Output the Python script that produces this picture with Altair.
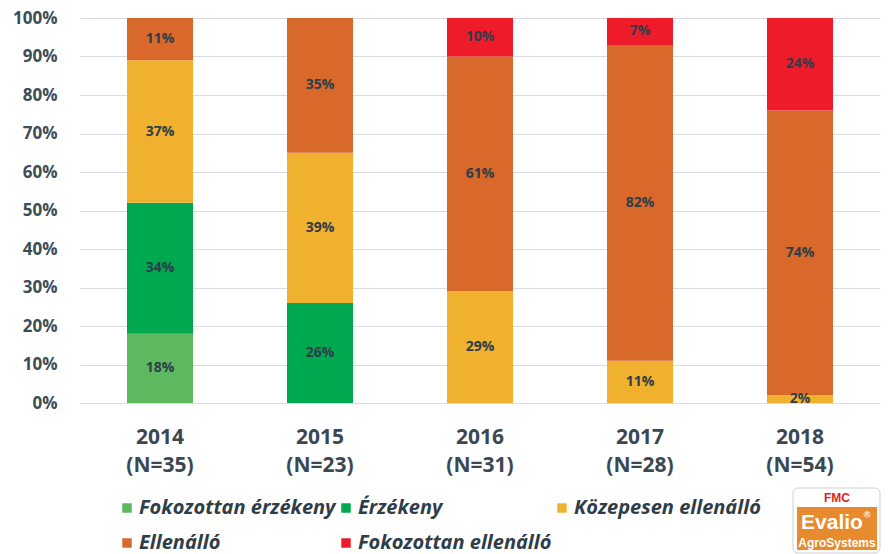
import altair as alt
import pandas as pd

years = ["2014", "2015", "2016", "2017", "2018"]
ns = [35, 23, 31, 28, 54]
categories = ["Fokozottan érzékeny", "Érzékeny", "Közepesen ellenálló", "Ellenálló", "Fokozottan ellenálló"]
colors = ["#5DB860", "#00A84F", "#F0B12E", "#D9692A", "#EE1C2B"]
fok_erz = [18, 0, 0, 0, 0]
erz = [34, 26, 0, 0, 0]
koz = [37, 39, 29, 11, 2]
ell = [11, 35, 61, 82, 74]
fok_ell = [0, 0, 10, 7, 24]

series = [fok_erz, erz, koz, ell, fok_ell]
rows = []
for ci, (cat, vals) in enumerate(zip(categories, series)):
    for yi, (yr, n) in enumerate(zip(years, ns)):
        rows.append({"label": f"{yr}\n(N={n})", "cat": cat, "order": ci, "value": vals[yi]})
df = pd.DataFrame(rows)
labels_order = [f"{y}\n(N={n})" for y, n in zip(years, ns)]

FONT = "Open Sans"
TXT = "#2e3d49"

xaxis = alt.Axis(labelExpr="split(datum.label, '\\n')", labelAngle=0,
                 labelFontSize=21, labelFontWeight="bold", labelColor="#3a4852",
                 labelFont=FONT, labelLineHeight=28, labelPadding=23,
                 ticks=False, domain=False, grid=False)
xscale = alt.Scale(paddingInner=0.5875, paddingOuter=0.29375)
yaxis = alt.Axis(format=".0%", values=[i / 10 for i in range(11)], labelOverlap=False,
                 labelFontSize=17, labelFontWeight="bold", labelColor="#3d4d57",
                 labelFont=FONT, labelPadding=23, ticks=False, domain=False,
                 gridColor="#d9dde1", gridWidth=1.2)
yscale = alt.Scale(domain=[0, 1], nice=False)

base = alt.Chart(df).transform_filter("datum.value > 0").transform_stack(
    stack="value", groupby=["label"], as_=["y0", "y1"], sort=[alt.SortField("order", "ascending")]
).transform_calculate(
    y0f="datum.y0/100", y1f="datum.y1/100", mid="(datum.y0+datum.y1)/200", txt="datum.value + '%'"
)

bars = base.mark_bar().encode(
    x=alt.X("label:N", sort=labels_order, title=None, scale=xscale, axis=xaxis),
    y=alt.Y("y0f:Q", title=None, scale=yscale, axis=yaxis),
    y2="y1f:Q",
    color=alt.Color("cat:N", scale=alt.Scale(domain=categories, range=colors), title=None,
                    legend=alt.Legend(orient="none", legendX=37, legendY=480, columns=3,
                                      direction="horizontal",
                                      symbolType="square", symbolSize=90, symbolStrokeWidth=0,
                                      labelFontSize=20, labelFontWeight="bold", labelFontStyle="italic",
                                      labelFont=FONT, labelColor=TXT, labelOffset=2,
                                      columnPadding=-9, rowPadding=15, labelLimit=400, padding=0)),
)

text = base.mark_text(fontSize=14, fontWeight="bold", font=FONT, color=TXT).encode(
    x=alt.X("label:N", sort=labels_order, title=None, scale=xscale, axis=xaxis),
    y=alt.Y("mid:Q", title=None, scale=yscale, axis=yaxis),
    text="txt:N",
)

one = pd.DataFrame({"a": [0]})
logo_box = alt.Chart(one).mark_rect(
    fill="white", stroke="#cfcfcf", strokeWidth=1, cornerRadius=5
).encode(x=alt.value(713), x2=alt.value(800), y=alt.value(470), y2=alt.value(535))
logo_orange = alt.Chart(one).mark_rect(fill="#E88A2E").encode(
    x=alt.value(717), x2=alt.value(797), y=alt.value(489), y2=alt.value(532))
logo_fmc = alt.Chart(pd.DataFrame({"t": ["FMC"]})).mark_text(
    fontSize=12, fontWeight="bold", font="Liberation Sans", color="#E31E24").encode(
    x=alt.value(757), y=alt.value(480), text="t:N")
logo_ev = alt.Chart(pd.DataFrame({"t": ["Evalio"]})).mark_text(
    fontSize=21, fontWeight="bold", font="Liberation Sans", color="white").encode(
    x=alt.value(752), y=alt.value(505), text="t:N")
logo_r = alt.Chart(pd.DataFrame({"t": ["®"]})).mark_text(
    fontSize=9, fontWeight="bold", font="Liberation Sans", color="white").encode(
    x=alt.value(787), y=alt.value(497), text="t:N")
logo_ag = alt.Chart(pd.DataFrame({"t": ["AgroSystems"]})).mark_text(
    fontSize=12, fontWeight="bold", font="Liberation Sans", color="white").encode(
    x=alt.value(757), y=alt.value(525), text="t:N")

chart = alt.layer(bars, text, logo_box, logo_orange, logo_fmc, logo_ev, logo_r, logo_ag).properties(
    width=800, height=385,
    autosize=alt.AutoSizeParams(type="none"),
    padding={"left": 72, "top": 10, "right": 3, "bottom": 151},
    background="white",
).configure_view(stroke=None)

chart.save("out.html", embed_options={"renderer": "svg", "actions": False})
